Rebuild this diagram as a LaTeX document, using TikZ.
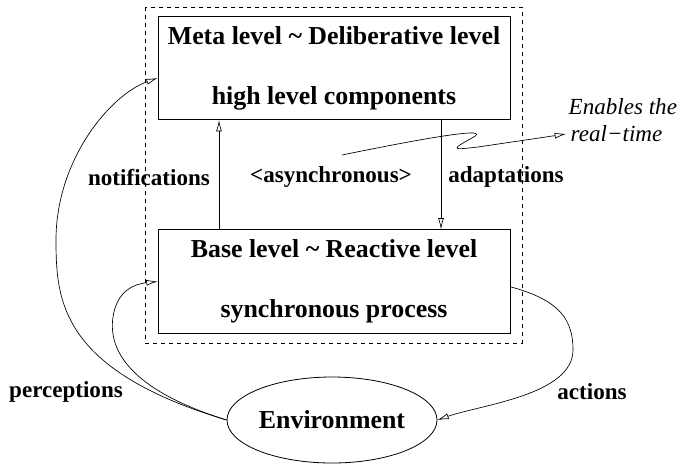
\documentclass[tikz,border=0pt]{standalone}
\usepackage{fontspec}
\setmainfont{Liberation Serif}
\usetikzlibrary{shapes.geometric,arrows.meta}

\begin{document}
\begin{tikzpicture}[x=0.75pt,y=-0.75pt,font=\fontsize{17.3}{20}\selectfont\bfseries,
  lvl/.style={draw,line width=0.6pt,minimum width=264pt,minimum height=77.5pt,align=center,font=\fontsize{19.4}{23}\selectfont\bfseries},
  note/.style={anchor=west,font=\fontsize{17.3}{20}\selectfont\itshape},
  arr/.style={-{Latex[open,length=8.5pt,width=4.5pt]},line width=0.5pt}]
  % Coordinates are pixels of the 681x465 figure, y pointing down.
  \useasboundingbox (0,0) rectangle (681,465);
  \draw[dashed,line width=0.6pt] (145,7) rectangle (522,343);
  \node[lvl] (meta) at (334,68) {Meta level \textasciitilde{} Deliberative level\\[22pt]high level components};
  \node[lvl] (base) at (334,281.5) {Base level \textasciitilde{} Reactive level\\[22pt]synchronous process};
  \node[draw,ellipse,line width=0.6pt,minimum width=157.5pt,minimum height=64.5pt,inner sep=0pt,font=\fontsize{19.4}{23}\selectfont\bfseries] (env) at (332,420) {Environment};
  \node (notif) at (149,177) {notifications};
  \node (async) at (331,177) {<asynchronous>};
  \node (adapt) at (506,177) {adaptations};
  \node (perc) at (66,392) {perceptions};
  \node (act) at (592,392) {actions};
  \node[note] (rt) at (566,134) {real−time};
  \node[note] (enab) at (564,107) {Enables the};
  \coordinate (upx) at (219,175);
  \coordinate (downx) at (441,175);
  \coordinate (pin) at (0,78);
  \coordinate (sq) at (342,155);
  \draw[arr] (upx |- base.north) -- (upx |- meta.south);
  \draw[arr] (downx |- meta.south) -- (downx |- base.north);
  \draw[arr] (sq) .. controls (430,137) and (495,126) .. (472,138) .. controls (450,150) and (452,150) .. (478,147) -- (rt.west);
  \draw[arr] (env.west) .. controls (60,370) and (56,300) .. (56,240) .. controls (56,160) and (110,95) .. (meta.west |- pin);
  \draw[arr] (env.west) .. controls (130,390) and (108,350) .. (113,317) .. controls (117,290) and (135,284) .. (base.west);
  \draw[arr] ([yshift=-4pt]base.east) .. controls (560,300) and (573,320) .. (573,350) .. controls (573,395) and (480,405) .. (env.east);
\end{tikzpicture}
\end{document}
